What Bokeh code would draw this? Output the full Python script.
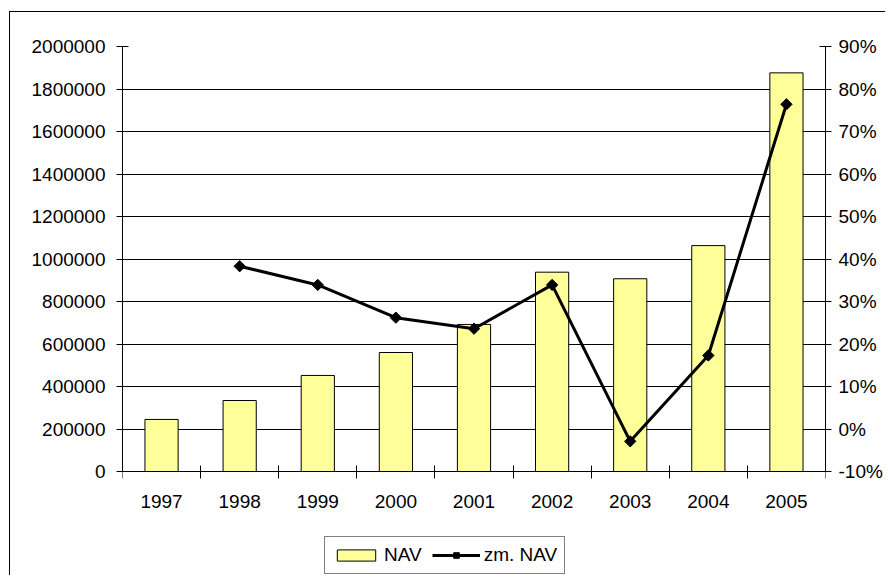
import math
from bokeh.plotting import figure
from bokeh.models import (Range1d, LinearAxis, FixedTicker, PrintfTickFormatter,
                          NumeralTickFormatter, Legend, LegendItem, Grid)
from bokeh.embed import file_html
from bokeh.resources import INLINE

# ---- data ----
years = ["1997", "1998", "1999", "2000", "2001", "2002", "2003", "2004", "2005"]
nav = [245000, 334000, 452000, 560000, 692000, 938000, 907000, 1063000, 1876000]
zm_nav = [None, 38.3, 33.9, 26.2, 23.6, 33.9, -2.9, 17.3, 76.4]
nav_ticks = [0, 200000, 400000, 600000, 800000, 1000000, 1200000, 1400000,
             1600000, 1800000, 2000000]
pct_ticks = [-10, 0, 10, 20, 30, 40, 50, 60, 70, 80, 90]

FONT = "Liberation Sans"
FS = "19px"

# ---- layout (pixels) ----
W, H = 876, 564
TOP, LEFT, RIGHT = 34, 112, 61
AXIS_H = 425          # height of the value-axis span
EXTRA = H - TOP - AXIS_H   # frame part below the zero line (holds labels + legend)

n = len(years)
xc = [i + 0.5 for i in range(n)]
line_x = [xc[i] for i in range(n) if zm_nav[i] is not None]
line_y = [v for v in zm_nav if v is not None]

nav_lo, nav_hi = nav_ticks[0], nav_ticks[-1]
pct_lo, pct_hi = pct_ticks[0], pct_ticks[-1]
nav_start = nav_lo - (nav_hi - nav_lo) * EXTRA / AXIS_H
pct_start = pct_lo - (pct_hi - pct_lo) * EXTRA / AXIS_H

p = figure(width=W, height=H,
           x_range=Range1d(0, n), y_range=Range1d(nav_start, nav_hi),
           x_axis_type=None, y_axis_type=None,
           output_backend="svg", toolbar_location=None,
           min_border_left=LEFT, min_border_right=RIGHT,
           min_border_top=TOP, min_border_bottom=0)
p.extra_y_ranges = {"pct": Range1d(pct_start, pct_hi)}
p.outline_line_color = None
p.background_fill_color = "white"
p.border_fill_color = "white"
p.styles = {"border-left": "1px solid black", "border-top": "1px solid black",
            "margin-left": "9px", "margin-top": "11px"}

p.add_layout(Grid(dimension=1, ticker=FixedTicker(ticks=nav_ticks),
                  grid_line_color="black", grid_line_width=1))


def style(ax):
    ax.axis_line_color = "black"
    ax.axis_line_width = 1
    ax.major_label_text_font = FONT
    ax.major_label_text_font_size = FS
    ax.major_label_text_color = "black"
    ax.major_tick_line_color = "black"
    ax.minor_tick_line_color = None


left = LinearAxis(ticker=FixedTicker(ticks=nav_ticks),
                  formatter=NumeralTickFormatter(format="0"),
                  bounds=(nav_lo, nav_hi))
style(left)
left.major_tick_in = 6
left.major_tick_out = 6
left.major_label_standoff = 11
p.add_layout(left, "left")

right = LinearAxis(y_range_name="pct", ticker=FixedTicker(ticks=pct_ticks),
                   formatter=PrintfTickFormatter(format="%d%%"),
                   bounds=(pct_lo, pct_hi))
style(right)
right.major_tick_in = 6
right.major_tick_out = 6
right.major_label_standoff = 7
p.add_layout(right, "right")

bottom = LinearAxis(ticker=FixedTicker(ticks=xc, minor_ticks=list(range(n + 1))),
                    major_label_overrides={xc[i]: years[i] for i in range(n)},
                    fixed_location=nav_lo)
style(bottom)
bottom.major_tick_line_color = None
bottom.major_tick_in = 0
bottom.major_tick_out = 7
bottom.minor_tick_line_color = "black"
bottom.minor_tick_in = 6
bottom.minor_tick_out = 7
bottom.major_label_standoff = 16
p.add_layout(bottom, "below")

bars = p.vbar(x=xc, top=nav, bottom=nav_lo, width=0.425, fill_color="#FFFF99",
              line_color="black", line_width=1)
ln = p.line(x=line_x, y=line_y, y_range_name="pct", line_color="black", line_width=3)
mk = p.scatter(x=line_x, y=line_y, y_range_name="pct", marker="square",
               angle=math.pi / 4, size=8, fill_color="black", line_color="black")

legend = Legend(items=[LegendItem(label="NAV", renderers=[bars]),
                       LegendItem(label="zm. NAV", renderers=[ln, mk])],
                location=(202, 2), orientation="horizontal")
legend.label_text_font = FONT
legend.label_text_font_size = FS
legend.label_text_color = "black"
legend.border_line_color = "black"
legend.border_line_width = 1
legend.background_fill_color = "white"
legend.background_fill_alpha = 1
legend.glyph_width = 48
legend.glyph_height = 14
legend.label_standoff = 4
legend.spacing = 10
legend.padding = 7
legend.margin = 0
p.add_layout(legend)

open("out.html", "w").write(file_html(p, INLINE))
